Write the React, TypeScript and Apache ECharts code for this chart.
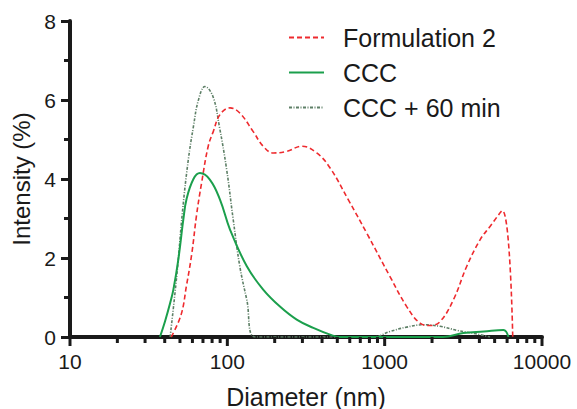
import { useEffect, useRef } from "react";
import * as echarts from "echarts";

// ---- Data ----
const formulation2Diameter = [44, 50.8, 55, 59.4, 63.8, 68.6, 75.6, 81.4, 89.8, 104, 120, 146, 169, 196, 239, 297, 370, 450, 588, 769, 1081, 1381, 1679, 1945, 2249, 2734, 3325, 4039, 4677, 5598, 6516];
const formulation2Intensity = [0, 0.56, 1.3, 2.1, 3.1, 3.9, 4.83, 5.2, 5.63, 5.8, 5.67, 5.2, 4.83, 4.66, 4.7, 4.83, 4.66, 4.28, 3.47, 2.63, 1.53, 0.77, 0.35, 0.29, 0.39, 0.94, 1.79, 2.46, 2.8, 3.2, 0];

const cccDiameter = [37.3, 40.2, 43.3, 45.4, 48.8, 52.5, 55.1, 60.9, 67, 77.6, 89.8, 104, 133, 169, 216, 276, 352, 450, 521, 2350, 3162, 4265, 5690, 6120];
const cccIntensity = [0, 0.4, 0.86, 1.2, 1.96, 2.97, 3.5, 4.0, 4.15, 3.98, 3.48, 2.72, 1.79, 1.2, 0.77, 0.44, 0.23, 0.06, 0, 0, 0.1, 0.14, 0.18, 0];

const ccc60Diameter = [43.3, 47.7, 52, 56.5, 60.9, 65.5, 72.1, 81, 89, 99, 109, 120, 133, 150, 848, 1081, 1381, 1762, 2249, 2870, 3800, 4677];
const ccc60Intensity = [0, 1.55, 3.22, 4.49, 5.33, 6.0, 6.34, 6.09, 5.33, 4.24, 2.97, 1.79, 0.94, 0, 0, 0.14, 0.25, 0.31, 0.27, 0.17, 0.08, 0];

const seriesNames = ["Formulation 2", "CCC", "CCC + 60 min"];
const xMajorTicks = [10, 100, 1000, 10000];
const xMinorTicks = [20, 30, 40, 50, 60, 70, 80, 90, 200, 300, 400, 500, 600, 700, 800, 900, 2000, 3000, 4000, 5000, 6000, 7000, 8000, 9000];

const FONT = "'Liberation Sans', Arial, sans-serif";
const INK = "#1a1a1a";

function pairs(xs: number[], ys: number[]) {
  return xs.map((x, i) => [x, ys[i]]);
}

export default function App() {
  const ref = useRef<HTMLDivElement>(null);
  useEffect(() => {
    const chart = echarts.init(ref.current!, null, { renderer: "svg" });
    const tickData = [
      ...xMajorTicks.map((v) => [v, 9]),
      ...xMinorTicks.map((v) => [v, 6]),
    ];
    chart.setOption({
      animation: false,
      backgroundColor: "#ffffff",
      textStyle: { fontFamily: FONT, color: "#1a1a1a" },
      grid: { left: 70, right: 35, top: 21, bottom: 72, containLabel: false, outerBoundsMode: "none" },
      legend: {
        orient: "vertical",
        left: 288,
        top: 25,
        padding: 0,
        itemWidth: 35,
        itemHeight: 12,
        itemGap: 10,
        data: seriesNames,
        itemStyle: { opacity: 0 },
        textStyle: { fontSize: 25, fontFamily: FONT, color: "#1a1a1a", padding: [0, 0, 0, 14], lineHeight: 25 },
      },
      xAxis: {
        type: "log",
        logBase: 10,
        min: 10,
        max: 10000,
        name: "Diameter (nm)",
        nameLocation: "middle",
        nameGap: 47,
        nameTextStyle: { fontSize: 25, fontFamily: FONT, color: "#1a1a1a" },
        axisLine: { show: true, onZero: false, lineStyle: { color: INK, width: 4, opacity: 1 } },
        axisTick: { show: false },
        axisLabel: { fontSize: 21, margin: 14, color: "#1a1a1a", fontFamily: FONT, formatter: (v: number) => String(Math.round(v)) },
        splitLine: { show: false },
      },
      yAxis: {
        type: "value",
        min: 0,
        max: 8,
        interval: 2,
        name: "Intensity (%)",
        nameLocation: "middle",
        nameGap: 36,
        nameTextStyle: { fontSize: 24, fontFamily: FONT, color: "#1a1a1a" },
        axisLine: { show: true, onZero: false, lineStyle: { color: INK, width: 4, opacity: 1 } },
        axisTick: { show: true, length: 9, lineStyle: { color: INK, width: 3, opacity: 1 } },
        minorTick: { show: true, splitNumber: 2, length: 6, lineStyle: { color: INK, width: 3, opacity: 1 } },
        axisLabel: { fontSize: 21, margin: 14, color: "#1a1a1a", fontFamily: FONT },
        splitLine: { show: false },
      },
      series: [
        {
          name: seriesNames[0],
          type: "line",
          data: pairs(formulation2Diameter, formulation2Intensity),
          showSymbol: false,
          symbol: "none",
          smooth: 0.4,
          lineStyle: { color: "#ee2a2e", width: 1.6, type: [5, 3] },
          itemStyle: { color: "#ee2a2e" },
          z: 3,
        },
        {
          name: seriesNames[1],
          type: "line",
          data: pairs(cccDiameter, cccIntensity),
          showSymbol: false,
          symbol: "none",
          smooth: 0.4,
          lineStyle: { color: "#1b9f4c", width: 2 },
          itemStyle: { color: "#1b9f4c" },
          z: 4,
        },
        {
          name: seriesNames[2],
          type: "line",
          data: pairs(ccc60Diameter, ccc60Intensity),
          showSymbol: false,
          symbol: "none",
          smooth: 0.4,
          lineStyle: { color: "#5d7f66", width: 1.6, type: [3, 1.5, 1, 1.5] },
          itemStyle: { color: "#5d7f66" },
          z: 2,
        },
        {
          name: "xTicks",
          type: "custom",
          silent: true,
          clip: false,
          z: 5,
          data: tickData,
          renderItem: (params: any, api: any) => {
            const p = api.coord([api.value(0), 0]);
            const len = api.value(1);
            return {
              type: "rect",
              shape: { x: p[0] - 1.5, y: p[1], width: 3, height: len },
              style: { fill: INK, opacity: 1 },
            };
          },
        },
      ],
    });
    return () => chart.dispose();
  }, []);
  return (
    <div
      ref={ref}
      style={{ width: 577, height: 409, position: "absolute", left: 0, top: 0 }}
    />
  );
}
